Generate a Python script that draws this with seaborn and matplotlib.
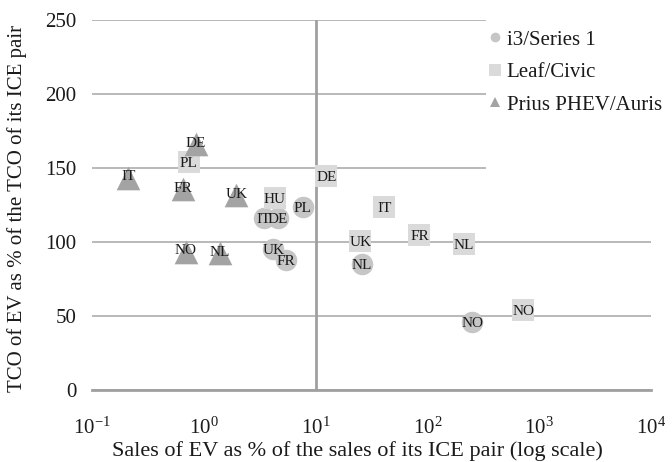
import matplotlib
matplotlib.use("Agg")
import matplotlib.pyplot as plt
import matplotlib.patches as mpatches
from matplotlib.lines import Line2D
import seaborn as sns
import pandas as pd

# ---- data ----
series_names = ["i3/Series 1", "Leaf/Civic", "Prius PHEV/Auris"]

i3_countries = ["IT", "DE", "PL", "UK", "FR", "NL", "NO"]
i3_sales = [3.43, 4.6, 7.7, 4.2, 5.4, 25.9, 251]
i3_tco = [116, 116, 123.6, 95.3, 88, 85.3, 46]

leaf_countries = ["PL", "DE", "HU", "IT", "UK", "FR", "NL", "NO"]
leaf_sales = [0.73, 12.5, 4.3, 41.3, 25.2, 84.9, 211, 720]
leaf_tco = [154.3, 144.4, 129.6, 123.7, 100.5, 105, 98.9, 53.9]

prius_countries = ["DE", "IT", "FR", "UK", "NO", "NL"]
prius_sales = [0.85, 0.211, 0.653, 1.96, 0.69, 1.39]
prius_tco = [166, 143.5, 135.5, 131.5, 93.5, 92.3]

x_ticks = [0.1, 1, 10, 100, 1000, 10000]
y_ticks = [0, 50, 100, 150, 200, 250]

xlabel = "Sales of EV as % of the sales of its ICE pair (log scale)"
ylabel = "TCO of EV as % of the TCO of its ICE pair"

# ---- build table ----
frames = []
for name, c, x, y in [
    (series_names[0], i3_countries, i3_sales, i3_tco),
    (series_names[1], leaf_countries, leaf_sales, leaf_tco),
    (series_names[2], prius_countries, prius_sales, prius_tco),
]:
    frames.append(pd.DataFrame({"series": name, "country": c, "sales": x, "tco": y}))
df = pd.concat(frames, ignore_index=True)

colors = {series_names[0]: "#c6c6c6", series_names[1]: "#dadada", series_names[2]: "#a3a3a3"}
markers = {series_names[0]: "o", series_names[1]: "s", series_names[2]: "^"}
sizes_pt2 = {series_names[0]: 240, series_names[1]: 260, series_names[2]: 290}

sns.set_theme(style="white")
plt.rcParams["font.family"] = ["Liberation Serif", "DejaVu Serif"]
plt.rcParams["mathtext.fontset"] = "custom"
plt.rcParams["mathtext.rm"] = "Liberation Serif"
plt.rcParams["mathtext.it"] = "Liberation Serif:italic"
plt.rcParams["axes.unicode_minus"] = False

fig = plt.figure(figsize=(6.72, 4.62), dpi=100)
ax = fig.add_axes([92 / 672, (462 - 390) / 462, 559 / 672, 370 / 462])

grid_color = "#b3b3b3"
axis_color = "#a0a0a0"
text_color = "#1a1a1a"

for name in series_names:
    sub = df[df["series"] == name]
    sns.scatterplot(data=sub, x="sales", y="tco", marker=markers[name],
                    color=colors[name], s=sizes_pt2[name], linewidth=0,
                    ax=ax, zorder=3, legend=False)
    dy = 1.5 if name == series_names[2] else 0.0
    for _, r in sub.iterrows():
        ax.text(r["sales"], r["tco"] + dy, r["country"], ha="center", va="center_baseline",
                fontsize=11, color=text_color, zorder=5)

ax.set_xscale("log")
ax.set_xlim(x_ticks[0], x_ticks[-1])
ax.set_ylim(y_ticks[0], y_ticks[-1])
ax.set_xticks(x_ticks)
ax.set_yticks(y_ticks)
ax.xaxis.set_minor_locator(matplotlib.ticker.NullLocator())

ax.yaxis.grid(True, color=grid_color, linewidth=1.3, zorder=0)
ax.xaxis.grid(False)
ax.set_axisbelow(True)
ax.axvline(10, color=axis_color, linewidth=2, zorder=1)

for s in ["top", "right", "left"]:
    ax.spines[s].set_visible(False)
ax.spines["bottom"].set_color(axis_color)
ax.spines["bottom"].set_linewidth(2)

ax.tick_params(axis="x", direction="out", length=6, width=1.2, color=axis_color,
               labelsize=15, labelcolor=text_color, pad=14)
ax.tick_params(axis="y", length=0, labelsize=15, labelcolor=text_color, pad=11)

ax.set_xlabel(xlabel, fontsize=16, color=text_color)
ax.xaxis.set_label_coords(0.474, -0.137)
ax.set_ylabel(ylabel, fontsize=15, color=text_color)
ax.yaxis.set_label_coords(-0.117, 0.49)

# white backdrop for the legend area
fig.patches.append(mpatches.Rectangle((486 / 672, 1 - 190 / 462), 1, 1,
                                      transform=fig.transFigure, facecolor="white",
                                      edgecolor="none", zorder=2))

handles = [Line2D([0], [0], marker=markers[n], color="none", markerfacecolor=colors[n],
                  markeredgewidth=0, markersize=7 if n != series_names[1] else 8)
           for n in series_names]
leg = fig.legend(handles, series_names, loc="upper left",
                 bbox_to_anchor=(489 / 672, 1 - 30 / 462), frameon=False,
                 fontsize=15, handlelength=0.6, handletextpad=0.25,
                 labelspacing=0.62, borderpad=0, borderaxespad=0)
for t in leg.get_texts():
    t.set_color(text_color)
leg.set_zorder(6)

fig.savefig("out.png", dpi=100)
